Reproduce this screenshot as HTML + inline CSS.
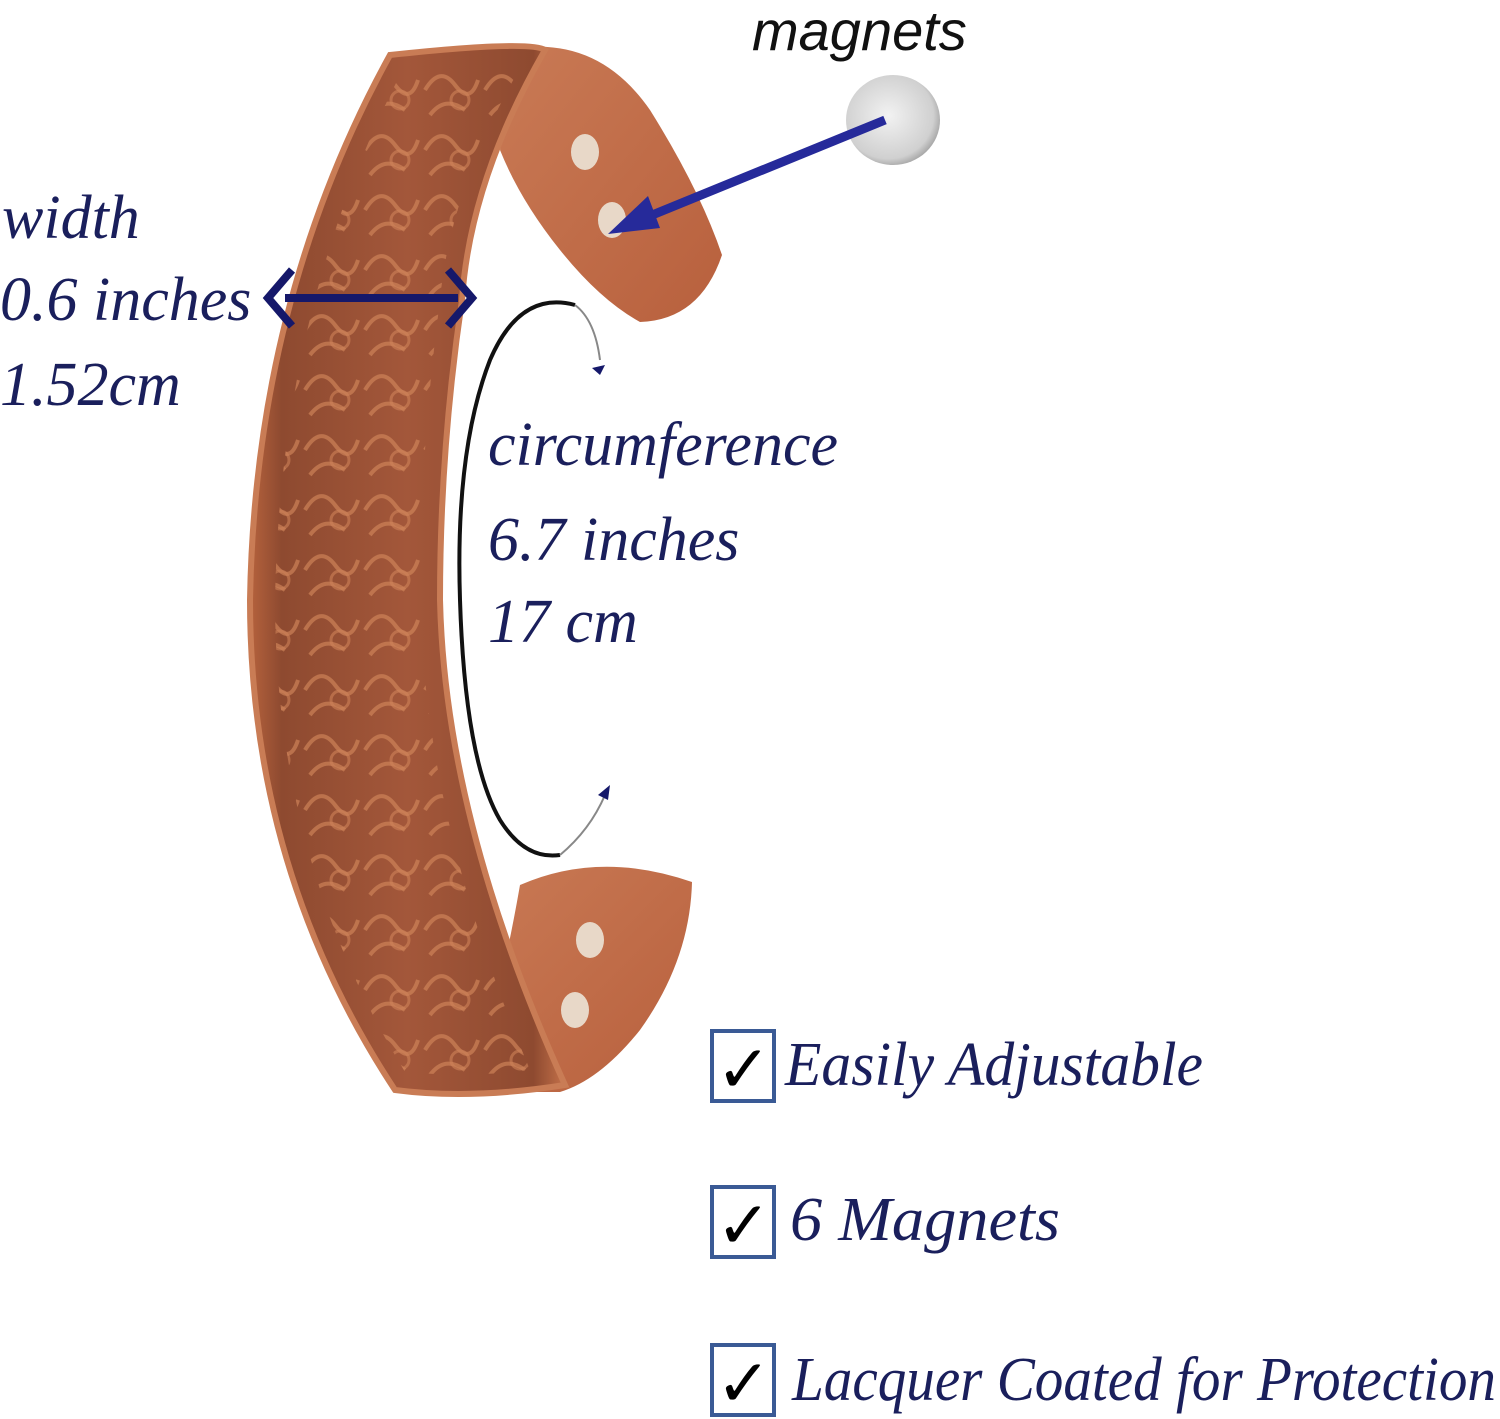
<!DOCTYPE html>
<html><head><meta charset="utf-8"><style>
html,body{margin:0;padding:0;background:#fff;}
svg{display:block;}
</style></head><body>
<svg width="1500" height="1419" viewBox="0 0 1500 1419" xmlns="http://www.w3.org/2000/svg">
<defs>
<linearGradient id="face" x1="0" y1="0" x2="1" y2="0">
<stop offset="0" stop-color="#b5623d"/>
<stop offset="0.1" stop-color="#8e4a30"/>
<stop offset="0.5" stop-color="#a3573a"/>
<stop offset="0.9" stop-color="#8e4a30"/>
<stop offset="1" stop-color="#c4714a"/>
</linearGradient>
<linearGradient id="inner" x1="0" y1="0" x2="1" y2="1">
<stop offset="0" stop-color="#c97a55"/>
<stop offset="1" stop-color="#b8603d"/>
</linearGradient>
<radialGradient id="mag" cx="0.45" cy="0.45" r="0.6">
<stop offset="0" stop-color="#f2f2f2"/>
<stop offset="0.8" stop-color="#d0d0d0"/>
<stop offset="1" stop-color="#9a9a9a"/>
</radialGradient>
<pattern id="pat" width="60" height="60" patternUnits="userSpaceOnUse">
<rect width="60" height="60" fill="none"/>
<path d="M5 30 Q20 5 35 25 T58 20 M10 55 Q25 35 45 50" stroke="#d4875c" stroke-width="4" fill="none" opacity="0.7"/>
<circle cx="40" cy="40" r="9" fill="none" stroke="#d4875c" stroke-width="3" opacity="0.6"/>
</pattern>
</defs>

<path d="M520 48 Q600 38 650 110 Q700 190 722 255 Q700 320 640 322 Q600 300 560 250 Q520 200 500 150 Z" fill="url(#inner)"/>
<path d="M520 885 Q600 850 692 882 Q690 960 640 1030 Q600 1080 560 1092 L470 1092 Q500 1000 520 885 Z" fill="url(#inner)"/>
<ellipse cx="585" cy="152" rx="14" ry="18" fill="#e8d8c8"/>
<ellipse cx="612" cy="220" rx="14" ry="18" fill="#e8d8c8"/>
<ellipse cx="590" cy="940" rx="14" ry="18" fill="#e8d8c8"/>
<ellipse cx="575" cy="1010" rx="14" ry="18" fill="#e8d8c8"/>

<path d="M390 55 Q530 40 545 50 Q470 180 462 300 Q440 450 440 600 Q445 820 565 1085 Q470 1100 395 1090 Q250 870 250 600 Q255 300 390 55 Z" fill="url(#face)" stroke="#c97c55" stroke-width="6"/>
<path d="M400 75 Q510 62 520 68 Q450 190 440 300 Q420 450 420 600 Q425 820 530 1070 Q470 1078 405 1072 Q275 860 275 600 Q280 310 400 75 Z" fill="url(#pat)" opacity="0.9"/>

<line x1="285" y1="298" x2="458" y2="298" stroke="#15186a" stroke-width="8"/>
<path d="M292 270 L268 298 L292 326" fill="none" stroke="#15186a" stroke-width="8"/>
<path d="M448 270 L472 298 L448 326" fill="none" stroke="#15186a" stroke-width="8"/>

<ellipse cx="893" cy="120" rx="47" ry="45" fill="url(#mag)"/>
<line x1="885" y1="120" x2="640" y2="220" stroke="#262a9a" stroke-width="9"/>
<path d="M608 234 L648 196 L660 228 Z" fill="#262a9a"/>

<path d="M575 305 Q520 290 490 360 Q455 450 460 600 Q465 760 500 820 Q525 860 560 855" fill="none" stroke="#111" stroke-width="4"/>
<path d="M575 305 Q595 320 600 360" fill="none" stroke="#888" stroke-width="2"/>
<path d="M592 368 L605 365 L600 375 Z" fill="#15186a"/>
<path d="M560 855 Q590 830 605 795" fill="none" stroke="#888" stroke-width="2"/>
<path d="M598 795 L610 785 L608 800 Z" fill="#15186a"/>

<g font-family="Liberation Serif, serif" font-style="italic" fill="#1a1f5c" font-size="62">
<text x="2" y="238">width</text>
<text x="0" y="320">0.6 inches</text>
<text x="0" y="405">1.52cm</text>
<text x="488" y="465">circumference</text>
<text x="488" y="560">6.7 inches</text>
<text x="488" y="642">17 cm</text>
<text x="785" y="1085" textLength="418" lengthAdjust="spacingAndGlyphs">Easily Adjustable</text>
<text x="790" y="1240" textLength="270" lengthAdjust="spacingAndGlyphs">6 Magnets</text>
<text x="792" y="1400" textLength="704" lengthAdjust="spacingAndGlyphs">Lacquer Coated for Protection</text>
</g>
<text x="752" y="50" font-family="Liberation Sans, sans-serif" font-style="italic" font-size="56" fill="#111">magnets</text>

<g fill="none" stroke="#3a5a95" stroke-width="4">
<rect x="712" y="1031" width="62" height="70"/>
<rect x="712" y="1187" width="62" height="70"/>
<rect x="712" y="1345" width="62" height="70"/>
</g>
<g font-family="DejaVu Sans, sans-serif" font-size="66" font-weight="bold" fill="#000">
<text x="716" y="1092">✓</text>
<text x="716" y="1248">✓</text>
<text x="716" y="1406">✓</text>
</g>
</svg>
</body></html>
